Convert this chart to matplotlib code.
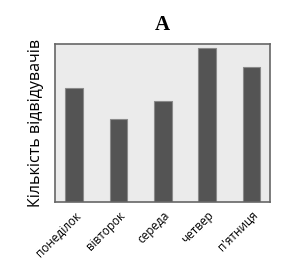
import matplotlib
matplotlib.use('Agg')
import matplotlib.pyplot as plt

days = ['понеділок', 'вівторок', 'середа', 'четвер', "п'ятниця"]
visitors = [114, 83, 101, 154, 135]

fig = plt.figure(figsize=[3.08, 2.62], dpi=100)
ax = fig.add_axes([55/308, 1 - 202/262, 215/308, 158/262])
ax.set_facecolor('#ebebeb')

x = range(len(days))
ax.bar(x, visitors, width=0.4, color='#545454', edgecolor='#8a8a8a', linewidth=0.8)

ax.set_xlim(-0.43, len(days) - 1 + 0.42)
ax.set_ylim(0, 158)
ax.set_yticks([])
ax.set_xticks(list(x))
ax.set_xticklabels(days, rotation=45, ha='right', rotation_mode='anchor',
                   fontsize=8.5, family='Open Sans')
ax.tick_params(axis='x', length=0, pad=5)
for s in ax.spines.values():
    s.set_color('#666666')
    s.set_linewidth(1.2)

ax.set_ylabel('Кількість відвідувачів', fontsize=11.5, family='Open Sans', labelpad=8)
ax.set_title('A', fontsize=15, fontweight='bold', family='Liberation Serif', pad=10)

fig.savefig('out.png', dpi=100)
